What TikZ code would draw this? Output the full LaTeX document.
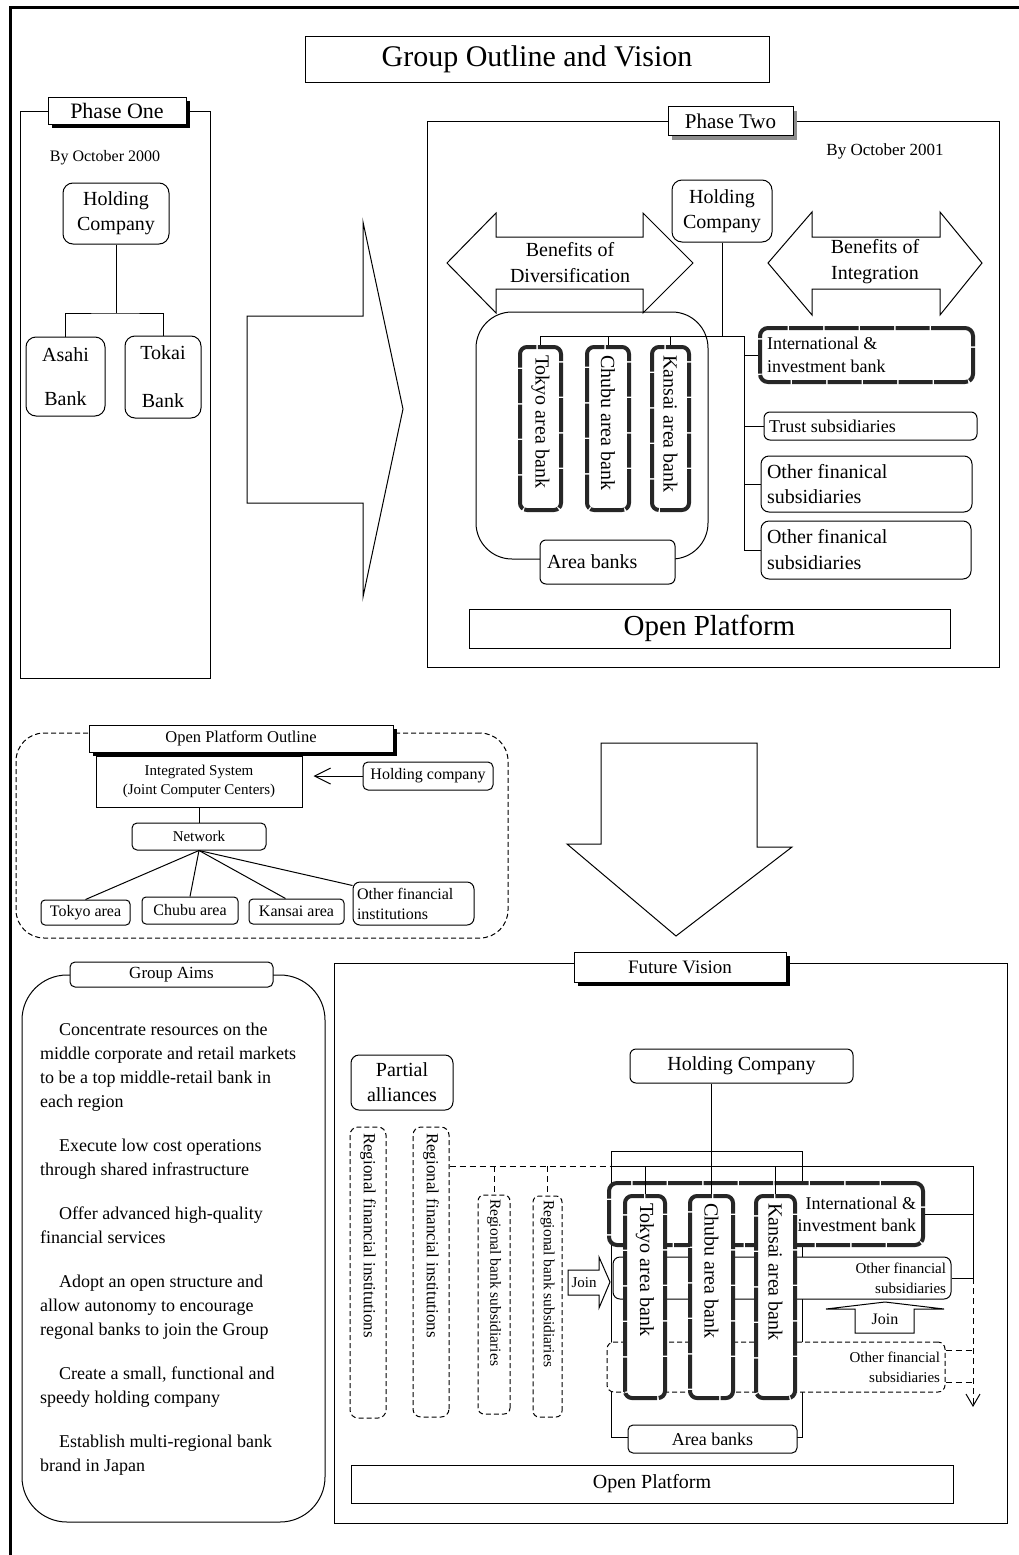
\documentclass[tikz,border=0pt]{standalone}
\usepackage{fontspec}
\setmainfont{Liberation Serif}
\usetikzlibrary{shadows,arrows.meta,calc}
\newcommand{\fsz}[2]{\fontsize{#1pt}{#2pt}\selectfont}
\tikzset{
  ln/.style={line width=1pt},
  dsh/.style={line width=1pt, dash pattern=on 6pt off 4pt},
  sbox/.style={draw, fill=white, line width=1pt, inner sep=0pt, align=center},
  rbox/.style={sbox, rounded corners=#1}, rbox/.default=6pt,
  dbox/.style={rbox=#1, dash pattern=on 5pt off 3pt}, dbox/.default=8pt,
  lbl/.style={sbox, drop shadow={shadow xshift=4pt, shadow yshift=-4pt, fill=#1, opacity=1}}, lbl/.default=black,
  heavy/.style={draw=black!85, fill=white, line width=4pt, rounded corners=8pt, inner sep=0pt, dash pattern=on 34pt off 1.5pt},
  bank/.style={heavy, rounded corners=7pt, rotate=-90, align=flush left},
  txt/.style={inner sep=0pt, align=center},
  bigarrow/.style={draw, line width=1pt, fill=white, line join=miter},
}
\begin{document}
\begin{tikzpicture}[x=1pt,y=-1pt]
\useasboundingbox (0,0) rectangle (1019,1555);
\fill[white] (0,0) rectangle (1019,1555);
% outer frame
\draw[line width=3pt] (10,1555) -- (10,8) -- (1019,8);

% title
\node[sbox, minimum width=464, minimum height=45, font=\fsz{30}{36}] (title) at (537,59.5) {Group Outline and Vision};

% ---------------- Phase One
\node[sbox, fill=none, minimum width=190, minimum height=567] (p1frame) at (115,394.5) {};
\node[lbl, minimum width=138, minimum height=27, font=\fsz{22}{26}] (p1lbl) at (117,110.5) {Phase One};
\node[txt, font=\fsz{16}{19}] (p1date) at (105,158) {By October 2000};
\node[rbox=10pt, minimum width=106, minimum height=61, font=\fsz{20}{25}] (hc1) at (116,213.5) {Holding\\Company};
\node[rbox=10pt, minimum width=79, minimum height=79, font=\fsz{20}{44}] (asahi) at (65.5,376.5) {Asahi\\Bank};
\node[rbox=10pt, minimum width=76, minimum height=82, font=\fsz{20}{48}] (tokai) at (163,377) {Tokai\\Bank};
\coordinate (p1j) at (116,313);
\draw[ln] (hc1.south) -- (p1j);
\draw[ln] (asahi.north) |- (p1j) -| (tokai.north);

% right arrow
\draw[bigarrow] (247,316) -- (363,316) -- (363,222) -- (403,409) -- (363,597) -- (363,503) -- (247,503) -- cycle;

% ---------------- Phase Two
\node[sbox, fill=none, minimum width=572, minimum height=546] (p2frame) at (713,394) {};
\node[lbl=black!45, minimum width=125, minimum height=29, font=\fsz{21}{25}] (p2lbl) at (730.5,121) {Phase Two};
\node[txt, font=\fsz{17}{20}] (p2date) at (885,151) {By October 2001};
\node[rbox=10pt, minimum width=100, minimum height=62, font=\fsz{20}{25}] (hc2) at (722,211) {Holding\\Company};

\draw[bigarrow] (447,263) -- (496,213) -- (496,237) -- (643,237) -- (643,213) -- (693,263) -- (643,313) -- (643,289) -- (496,289) -- (496,313) -- cycle;
\node[txt, font=\fsz{20}{26}] (bdiv) at (570,263) {Benefits of\\Diversification};
\draw[bigarrow] (768,263) -- (812,212) -- (812,237) -- (940,237) -- (940,212) -- (982,263) -- (940,315) -- (940,289) -- (812,289) -- (812,315) -- cycle;
\node[txt, font=\fsz{20}{26}] (bint) at (875,262) {Benefits of\\Integration};

\node[rbox=36pt, fill=none, minimum width=232, minimum height=247] (areagrp) at (592,435.5) {};
\node[bank, minimum height=41, text width=147, inner xsep=8, font=\fsz{20}{24}] (tk2) at (540.5,428.5) {Tokyo area bank};
\node[bank, minimum height=42, text width=147, inner xsep=8, font=\fsz{20}{24}] (cb2) at (608,428.5) {Chubu area bank};
\node[bank, minimum height=37, text width=147, inner xsep=8, font=\fsz{20}{24}] (ks2) at (670.5,428.5) {Kansai area bank};

\node[heavy, minimum height=54, text width=199, inner xsep=7, align=flush left, font=\fsz{18}{23}] (intl2) at (866.5,355) {International \&\\investment bank};
\node[rbox=6pt, minimum height=28, text width=203, inner xsep=5, align=flush left, font=\fsz{18}{22}] (trust) at (870.5,426) {Trust subsidiaries};
\node[rbox=8pt, minimum height=56, text width=199, inner xsep=6, align=flush left, font=\fsz{20}{25}] (of21) at (866.5,484) {Other finanical\\subsidiaries};
\node[rbox=8pt, minimum height=58, text width=198, inner xsep=6, align=flush left, font=\fsz{20}{26}] (of22) at (866,550) {Other finanical\\subsidiaries};

\coordinate (p2j) at (722,336);
\coordinate (p2r) at (744,336);
\draw[ln] (hc2.south) -- (p2j);
\draw[ln] (tk2.west) -- (tk2.west |- p2j) -- (p2r);
\draw[ln] (cb2.west) -- (cb2.west |- p2j);
\draw[ln] (ks2.west) -- (ks2.west |- p2j);
\draw[ln] (p2r) |- (intl2.west);
\draw[ln] (p2r) |- (trust.west);
\draw[ln] (p2r) |- (of21.west);
\draw[ln] (p2r) |- (of22.west);

\node[rbox=6pt, minimum height=44, text width=121, inner xsep=7, align=flush left, font=\fsz{20}{24}] (area2) at (607.5,562) {Area banks};
\node[sbox, minimum width=481, minimum height=39, font=\fsz{29}{34}] (op2) at (709.5,628.5) {Open Platform};

% ---------------- Open Platform Outline
\node[dbox=28pt, fill=none, minimum width=492, minimum height=205] (opoframe) at (262,835.5) {};
\node[lbl, minimum width=304, minimum height=27, font=\fsz{16.5}{19}] (opolbl) at (241,738.5) {Open Platform Outline};
\node[sbox, minimum width=206, minimum height=51, font=\fsz{15}{19}] (integ) at (199,781.5) {Integrated System\\(Joint Computer Centers)};
\node[rbox=5pt, minimum width=130, minimum height=28, font=\fsz{16}{19}] (hco) at (428,776) {Holding company};
\draw[ln, -{Straight Barb[length=16pt,width=16pt]}, shorten >=11pt] (hco.west) -- (hco.west -| integ.east);
\node[rbox=5pt, minimum width=134, minimum height=27, font=\fsz{15}{18}] (net) at (199,836.5) {Network};
\draw[ln] (integ.south) -- (net.north);
\node[rbox=4pt, minimum width=89, minimum height=25, font=\fsz{16}{19}] (tka) at (85.5,912.5) {Tokyo area};
\node[rbox=4pt, minimum width=96, minimum height=27, font=\fsz{16}{19}] (cba) at (190,910.5) {Chubu area};
\node[rbox=4pt, minimum width=95, minimum height=25, font=\fsz{16}{19}] (ksa) at (296.5,911.5) {Kansai area};
\node[rbox=7pt, minimum height=43, text width=113, inner xsep=4, align=flush left, font=\fsz{16}{20}] (ofi) at (413.5,903.5) {Other financial\\institutions};
\draw[ln] (net.south) -- (tka.north);
\draw[ln] (net.south) -- (cba.north);
\draw[ln] (net.south) -- ($(ksa.north)+(-11,0)$);
\draw[ln] (net.south) -- ($(ofi.north west)+(0,4)$);

% big down arrow
\draw[bigarrow] (601,743) -- (757,743) -- (757,847) -- (792,847) -- (676,936) -- (567,844) -- (601,844) -- cycle;

% ---------------- Group Aims
\node[rbox=45pt, fill=none, minimum width=303, minimum height=547] (aimsframe) at (173.5,1248.5) {};
\node[rbox=5pt, minimum width=203, minimum height=25, font=\fsz{17}{20}] (aimslbl) at (171.5,974.5) {Group Aims};
\node[anchor=north west, inner sep=0pt, align=flush left, font=\fsz{18}{24}] (aimstxt) at (40,1023) {%
\hspace*{19pt}Concentrate resources on the\\
middle corporate and retail markets\\
to be a top middle-retail bank in\\
each region\\[20pt]
\hspace*{19pt}Execute low cost operations\\
through shared infrastructure\\[20pt]
\hspace*{19pt}Offer advanced high-quality\\
financial services\\[20pt]
\hspace*{19pt}Adopt an open structure and\\
allow autonomy to encourage\\
regonal banks to join the Group\\[20pt]
\hspace*{19pt}Create a small, functional and\\
speedy holding company\\[20pt]
\hspace*{19pt}Establish multi-regional bank\\
brand in Japan};

% ---------------- Future Vision
\node[sbox, fill=none, minimum width=673, minimum height=560] (fvframe) at (670.5,1243) {};
\node[lbl, minimum width=212, minimum height=30, font=\fsz{19}{23}] (fvlbl) at (680,967) {Future Vision};
\node[rbox=6pt, minimum width=223, minimum height=34, font=\fsz{20}{24}] (hc3) at (741.5,1066) {Holding Company};
\node[rbox=8pt, minimum width=102, minimum height=55, font=\fsz{20}{25}] (pa) at (402,1082.5) {Partial\\alliances};

\node[dbox=8pt, rotate=-90, minimum height=36, text width=279, inner xsep=6, align=flush left, font=\fsz{17}{20}] (rfi1) at (368,1272.5) {Regional financial institutions};
\node[dbox=8pt, rotate=-90, minimum height=36, text width=278, inner xsep=6, align=flush left, font=\fsz{17}{20}] (rfi2) at (431,1272) {Regional financial institutions};
\node[dbox=6pt, rotate=-90, minimum height=32, text width=211, inner xsep=4, align=flush left, font=\fsz{15.5}{18}] (rbs1) at (494,1304.5) {Regional bank subsidiaries};
\node[dbox=6pt, rotate=-90, minimum height=29, text width=213, inner xsep=4, align=flush left, font=\fsz{15.5}{18}] (rbs2) at (547.5,1306.5) {Regional bank subsidiaries};

\node[sbox, fill=none, minimum width=191, minimum height=286] (agrp) at (706.5,1294) {};

\coordinate (fvL) at (611,1166);
\coordinate (fvR) at (973,1166);
\coordinate (fvArr) at (973,1407);
\draw[dsh] (rfi2.north |- fvL) -- (fvL);
\draw[dsh] (rbs1.west |- fvL) -- (rbs1.west);
\draw[dsh] (rbs2.west |- fvL) -- (rbs2.west);
\draw[ln] (fvL) -- (fvR);

\node[heavy, minimum height=62, text width=300, inner xsep=7, align=flush right, font=\fsz{18}{22}] (intl3) at (766,1214) {International \&\\investment bank};
\node[rbox=7pt, minimum height=42, text width=328, inner xsep=5, align=flush right, font=\fsz{15}{20}] (of3) at (782,1278) {Other financial\\subsidiaries};
\node[dbox=7pt, minimum height=50, text width=328, inner xsep=5, align=flush right, font=\fsz{15}{20}] (of3d) at (776,1367) {Other financial\\subsidiaries};

\draw[ln] (fvR) |- (of3.east);
\draw[ln] (intl3.east) -- (intl3.east -| fvR);
\draw[dsh, -{Straight Barb[length=12pt,width=14pt]}] (of3.east -| fvR) -- (fvArr);
\coordinate (d1) at ($(of3d.east)+(0,-17)$);
\coordinate (d2) at ($(of3d.east)+(0,15)$);
\draw[dsh] (d1) -- (d1 -| fvR);
\draw[dsh] (d2) -- (d2 -| fvR);

\node[bank, minimum height=40, text width=188, inner xsep=7, font=\fsz{20}{24}] (tk3) at (645,1297) {Tokyo area bank};
\node[bank, minimum height=43, text width=188, inner xsep=7, font=\fsz{20}{24}] (cb3) at (711.5,1297) {Chubu area bank};
\node[bank, minimum height=39, text width=188, inner xsep=7, font=\fsz{20}{24}] (ks3) at (775.5,1297) {Kansai area bank};

\draw[ln] (hc3.south -| cb3.west) -- (cb3.west);
\draw[ln] (tk3.west |- fvR) -- (tk3.west);
\draw[ln] (ks3.west |- fvR) -- (ks3.west);

% join arrows
\draw[bigarrow] (855,1333) -- (855,1309) -- (826,1309) -- (885,1302) -- (944,1309) -- (914,1309) -- (914,1333) -- cycle;
\node[txt, font=\fsz{16}{19}] (join1) at (885,1319) {Join};
\draw[bigarrow] (568,1270) -- (599,1270) -- (599,1257) -- (610,1282) -- (599,1308) -- (599,1295) -- (568,1295) -- cycle;
\node[txt, font=\fsz{15}{18}] (join2) at (584,1283) {Join};

\node[rbox=5pt, minimum width=169, minimum height=28, font=\fsz{18}{22}] (area3) at (712.5,1439) {Area banks};
\node[sbox, minimum width=602, minimum height=38, font=\fsz{20}{24}] (op3) at (652,1484) {Open Platform};
\end{tikzpicture}
\end{document}
